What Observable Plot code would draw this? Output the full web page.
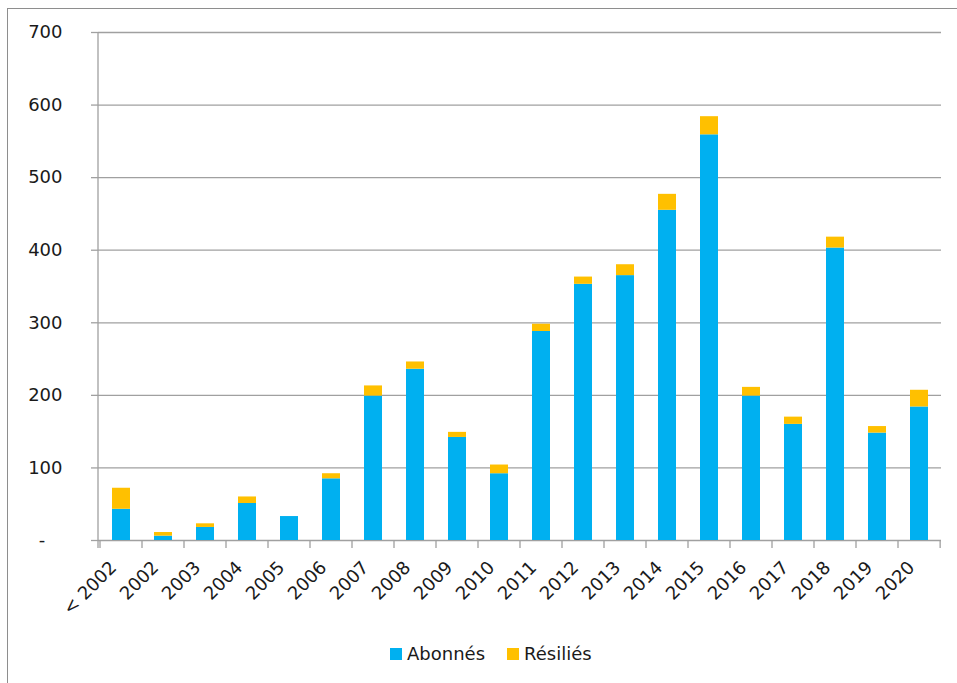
<!DOCTYPE html>
<html>
<head>
<meta charset="utf-8">
<script src="https://cdn.jsdelivr.net/npm/d3@7"></script>
<script src="https://cdn.jsdelivr.net/npm/@observablehq/plot@0.6"></script>
<style>
  html, body { margin: 0; padding: 0; background: #fff; overflow: hidden; }
  #wrap { position: relative; width: 957px; height: 683px; }
  #border { position: absolute; left: 7px; top: 8px; width: 1000px; height: 1000px; border: 1.3px solid #8e8e8e; box-sizing: border-box; }
  #chart { position: absolute; left: 0; top: 0; }
  #legend { position: absolute; left: 390px; top: 643px; font-family: "DejaVu Sans", sans-serif; font-size: 18px; color: #1a1a1a; display: flex; align-items: center; white-space: nowrap; }
  #legend .sw { display: inline-block; width: 12px; height: 12px; margin-right: 5px; }
  #legend .item { display: inline-flex; align-items: center; margin-right: 22px; }
</style>
</head>
<body>
<div id="wrap">
  <div id="border"></div>
  <div id="chart"></div>
  <div id="legend"></div>
</div>
<script>
const years = ["< 2002","2002","2003","2004","2005","2006","2007","2008","2009","2010",
               "2011","2012","2013","2014","2015","2016","2017","2018","2019","2020"];
const abonnes  = [43, 6, 18, 51, 33, 85, 199, 236, 142, 92, 288, 353, 365, 455, 559, 199, 160, 403, 148, 184];
const resilies = [29, 5, 5, 9, 0, 7, 14, 10, 7, 12, 10, 10, 15, 22, 25, 12, 10, 15, 9, 23];
const seriesNames = ["Abonnés", "Résiliés"];
const seriesColors = ["#00B0F0", "#FFC000"];
const yTicks = [0, 100, 200, 300, 400, 500, 600, 700];

const rows = [];
years.forEach((yr, i) => {
  rows.push({year: yr, series: seriesNames[0], value: abonnes[i]});
  rows.push({year: yr, series: seriesNames[1], value: resilies[i]});
});

function axisFrame(index, scales, values, dims) {
  const g = d3.create("svg:g").attr("stroke", "#a0a0a0").attr("stroke-width", 1.3).attr("fill", "none");
  const x0 = dims.marginLeft;
  const yb = dims.height - dims.marginBottom;
  g.append("line").attr("x1", x0).attr("x2", x0).attr("y1", dims.marginTop).attr("y2", yb + 8);
  const step = (dims.width - dims.marginLeft - dims.marginRight) / years.length;
  const edges = years.map(y => scales.x(y));
  edges.push(scales.x(years[years.length - 1]) + step);
  edges.forEach(e => g.append("line").attr("x1", e).attr("x2", e).attr("y1", yb).attr("y2", yb + 8));
  return g.node();
}

const chart = Plot.plot({
  width: 957,
  height: 625,
  marginLeft: 98,
  marginRight: 16,
  marginTop: 32,
  marginBottom: 85,
  style: {fontFamily: "DejaVu Sans, sans-serif", background: "transparent", color: "#1a1a1a"},
  x: {domain: years, padding: 0, axis: null},
  y: {domain: [0, 700], axis: null},
  color: {domain: seriesNames, range: seriesColors},
  marks: [
    Plot.gridY(yTicks, {stroke: "#a0a0a0", strokeOpacity: 1, strokeWidth: 1.3}),
    Plot.barY(rows, {x: "year", y: "value", fill: "series", insetLeft: 12, insetRight: 12}),
    axisFrame,
    Plot.axisY(yTicks, {tickSize: 7, tickPadding: 29, stroke: "#a0a0a0", strokeWidth: 1.3, fill: "#1a1a1a", fontSize: 18, label: null,
      tickFormat: d => d === 0 ? "-\u2007\u00a0" : String(d)}),
    Plot.axisX({tickRotate: -45, tickSize: 0, tickPadding: 24, dx: -8, fontSize: 18, fill: "#1a1a1a", label: null})
  ]
});
document.getElementById("chart").appendChild(chart);

const legend = document.getElementById("legend");
seriesNames.forEach((name, i) => {
  const item = document.createElement("span");
  item.className = "item";
  const sw = document.createElement("span");
  sw.className = "sw";
  sw.style.background = seriesColors[i];
  item.appendChild(sw);
  item.appendChild(document.createTextNode(name));
  legend.appendChild(item);
});
</script>
</body>
</html>
